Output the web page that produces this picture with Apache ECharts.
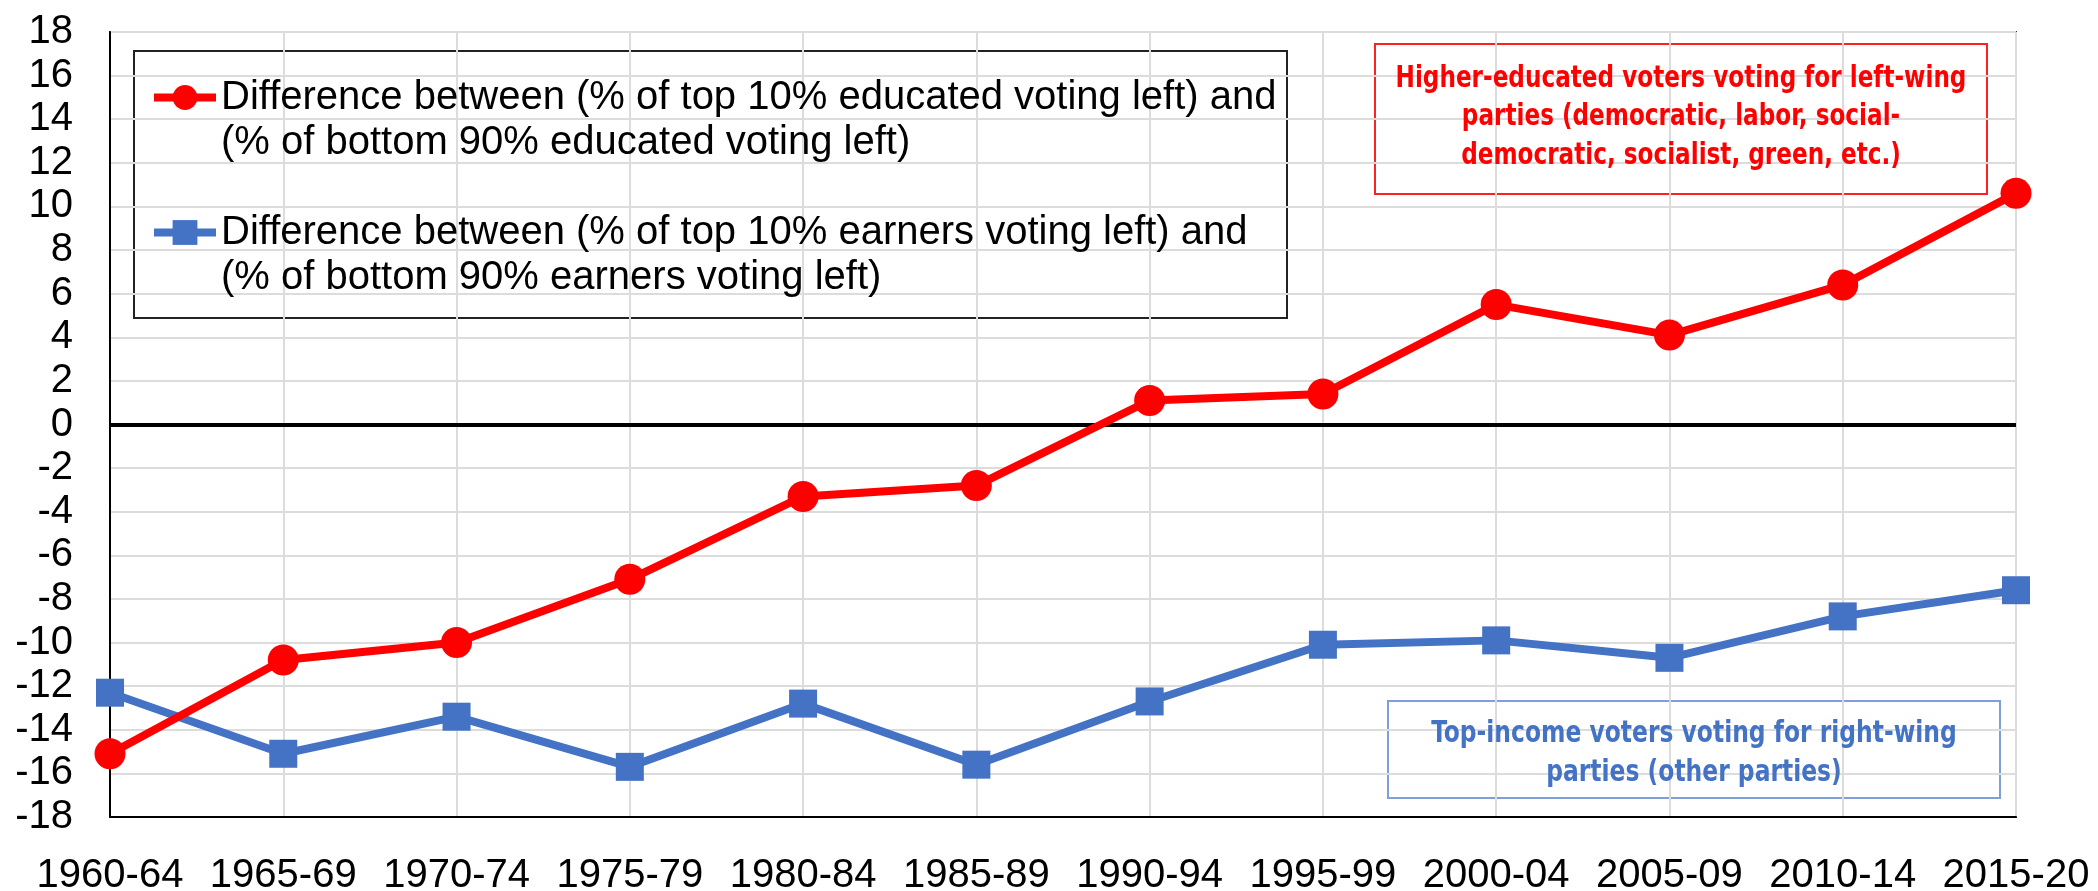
<!DOCTYPE html>
<html>
<head>
<meta charset="utf-8">
<script src="https://cdn.jsdelivr.net/npm/echarts@6/dist/echarts.min.js"></script>
<style>
html,body{margin:0;padding:0;background:#fff;}
#chart{width:2098px;height:891px;}
</style>
</head>
<body>
<div id="chart"></div>
<script>
const categories = ['1960-64','1965-69','1970-74','1975-79','1980-84','1985-89','1990-94','1995-99','2000-04','2005-09','2010-14','2015-20'];
const educatedGap = [-15.1, -10.8, -10.0, -7.1, -3.3, -2.8, 1.1, 1.4, 5.5, 4.1, 6.4, 10.6];
const earnersGap = [-12.3, -15.1, -13.4, -15.7, -12.8, -15.6, -12.7, -10.1, -9.9, -10.7, -8.8, -7.6];
const yTicks = {min: -18, max: 18, interval: 2};
const seriesNames = [
  'Difference between (% of top 10% educated voting left) and\n(% of bottom 90% educated voting left)',
  'Difference between (% of top 10% earners voting left) and\n(% of bottom 90% earners voting left)'
];
const noteLeft = 'Higher-educated voters voting for left-wing\nparties (democratic, labor, social-\ndemocratic, socialist, green, etc.)';
const noteRight = 'Top-income voters voting for right-wing\nparties (other parties)';

const FONT = "'Liberation Sans', Arial, sans-serif";
const NOTEFONT = "'DejaVu Sans Condensed', 'DejaVu Sans', sans-serif";
const chart = echarts.init(document.getElementById('chart'), null, {renderer: 'canvas'});
const LH = 45;
chart.setOption({
  backgroundColor: '#fff',
  animation: false,
  grid: {left: 110, right: 82, top: 32, bottom: 74, show: true, borderColor: '#333', borderWidth: 2,
         containLabel: false, outerBoundsMode: 'none'},
  legend: {
    orient: 'vertical', left: 150, top: 30, padding: 0, itemGap: 0,
    itemWidth: 62, itemHeight: 31,
    lineStyle: {width: 8},
    formatter: function (name) { return '\n' + name; },
    textStyle: {fontFamily: FONT, fontSize: 40, color: '#000', lineHeight: LH},
    data: seriesNames
  },
  xAxis: {
    type: 'category', data: categories, boundaryGap: false,
    axisLine: {onZero: false, lineStyle: {color: '#000', width: 2}},
    axisTick: {show: false},
    axisLabel: {interval: 0, fontFamily: FONT, fontSize: 40, color: '#000', margin: 39},
    splitLine: {show: true, lineStyle: {color: '#dcdcdc', width: 2}}
  },
  yAxis: {
    type: 'value', min: yTicks.min, max: yTicks.max, interval: yTicks.interval,
    axisLine: {show: true, lineStyle: {color: '#000', width: 2}},
    axisTick: {show: false},
    axisLabel: {fontFamily: FONT, fontSize: 40, color: '#000', margin: 37},
    splitLine: {show: true, lineStyle: {color: '#dcdcdc', width: 2}}
  },
  graphic: [
    {type: 'rect', x: 134, y: 51, z: 0, shape: {x: 0, y: 0, width: 1153, height: 267},
     style: {fill: '#fff', stroke: '#222', lineWidth: 2}},
    {type: 'rect', x: 1375, y: 44, z: 0, shape: {x: 0, y: 0, width: 612, height: 150},
     style: {fill: '#fff', stroke: '#ff2020', lineWidth: 2}},
    {type: 'text', x: 1681, y: 117, scaleX: 0.83, z: 1,
     style: {text: noteLeft, x: 0, y: 0, fill: '#ff0000', font: "bold 31px " + NOTEFONT,
             align: 'center', verticalAlign: 'middle', textAlign: 'center', textVerticalAlign: 'middle', lineHeight: 38.5}},
    {type: 'rect', x: 1388, y: 701, z: 0, shape: {x: 0, y: 0, width: 612, height: 97},
     style: {fill: '#fff', stroke: '#7f9fd8', lineWidth: 2}},
    {type: 'text', x: 1694, y: 753, scaleX: 0.84, z: 1,
     style: {text: noteRight, x: 0, y: 0, fill: '#4472c4', font: "bold 31px " + NOTEFONT,
             align: 'center', verticalAlign: 'middle', textAlign: 'center', textVerticalAlign: 'middle', lineHeight: 39}}
  ],
  series: [
    {name: seriesNames[0], type: 'line', data: educatedGap, color: '#ff0000',
     symbol: 'circle', symbolSize: 31, lineStyle: {width: 8, color: '#ff0000'}, itemStyle: {color: '#ff0000'}, z: 5,
     markLine: {silent: true, symbol: 'none', label: {show: false}, lineStyle: {color: '#000', width: 4, type: 'solid'},
       data: [{yAxis: 0}], z: 3}},
    {name: seriesNames[1], type: 'line', data: earnersGap, color: '#4472c4',
     symbol: 'rect', symbolSize: 28, lineStyle: {width: 8, color: '#4472c4'}, itemStyle: {color: '#4472c4'}, z: 4}
  ]
});
</script>
</body>
</html>
